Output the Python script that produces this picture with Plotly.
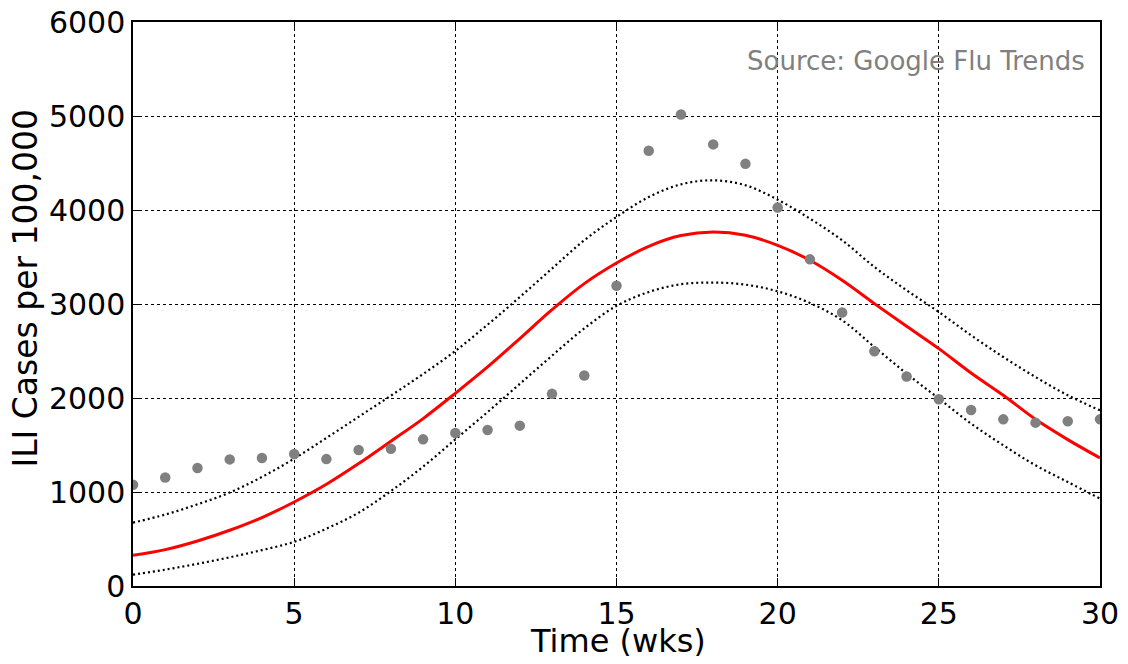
import plotly.graph_objects as go

weeks = list(range(31))
observed = [1077, 1155, 1255, 1347, 1361, 1404, 1350, 1446, 1460, 1560,
            1628, 1660, 1706, 2044, 2239, 3195, 4630, 5016, 4698, 4491,
            4026, 3475, 2910, 2498, 2228, 1986, 1873, 1773, 1738, 1752, 1773]
model = [326, 387, 479, 593, 728, 894, 1082, 1302, 1540, 1781,
         2050, 2330, 2632, 2940, 3217, 3436, 3614, 3728, 3766, 3731,
         3624, 3465, 3252, 3004, 2763, 2525, 2266, 2029, 1773, 1557, 1362]
upper = [674, 760, 869, 994, 1160, 1355, 1575, 1800, 2025, 2255,
         2500, 2780, 3074, 3377, 3678, 3926, 4138, 4273, 4316, 4263,
         4110, 3908, 3678, 3394, 3146, 2915, 2667, 2436, 2223, 2029, 1869]
lower = [121, 174, 236, 305, 382, 470, 610, 780, 1010, 1270,
         1560, 1850, 2150, 2450, 2740, 2980, 3128, 3210, 3228, 3206,
         3135, 3011, 2827, 2543, 2260, 1994, 1728, 1497, 1284, 1106, 930]

x_ticks = [0, 5, 10, 15, 20, 25, 30]
y_ticks = [0, 1000, 2000, 3000, 4000, 5000, 6000]

fig = go.Figure()
dotted = dict(color="black", width=2.2, dash="2px,3px", shape="spline")
fig.add_trace(go.Scatter(x=weeks, y=upper, mode="lines", line=dotted, showlegend=False))
fig.add_trace(go.Scatter(x=weeks, y=lower, mode="lines", line=dotted, showlegend=False))
fig.add_trace(go.Scatter(x=weeks, y=model, mode="lines", line=dict(color="red", width=3, shape="spline"), showlegend=False))
fig.add_trace(go.Scatter(x=weeks, y=observed, mode="markers", marker=dict(color="#808080", size=10.5, line=dict(width=0)), showlegend=False))

axis_common = dict(
    showline=True, linecolor="black", linewidth=1.5, mirror="ticks",
    ticks="inside", ticklen=8, tickcolor="black", tickwidth=1,
    showgrid=True, gridcolor="black", griddash="dot", gridwidth=1,
    zeroline=False, automargin=False, ticklabeloverflow="allow",
    tickfont=dict(family="DejaVu Sans", size=30, color="black"),
)

fig.update_xaxes(range=[0, 30], tickvals=x_ticks, ticktext=[str(v) for v in x_ticks], **axis_common)
fig.update_yaxes(range=[0, 6000], tickvals=y_ticks, ticktext=[str(v) for v in y_ticks], **axis_common)

fig.add_annotation(text="Time (wks)", xref="paper", yref="paper",
                   x=0.5016, y=-0.097, xanchor="center", yanchor="middle", showarrow=False,
                   font=dict(family="DejaVu Sans", size=32, color="black"))

fig.add_annotation(text="ILI Cases per 100,000", textangle=-90, xref="paper", yref="paper",
                   x=-0.1107, y=0.529, xanchor="center", yanchor="middle", showarrow=False,
                   font=dict(family="DejaVu Sans", size=33, color="black"))

fig.add_annotation(text="Source: Google Flu Trends", xref="paper", yref="paper",
                   x=0.9866, y=0.931, xanchor="right", yanchor="middle", showarrow=False,
                   font=dict(family="DejaVu Sans", size=26, color="#808080"))

fig.update_layout(width=1112, height=648, margin=dict(l=125, r=20, t=14, b=70),
                  plot_bgcolor="white", paper_bgcolor="white")

fig.write_html("out.html")
